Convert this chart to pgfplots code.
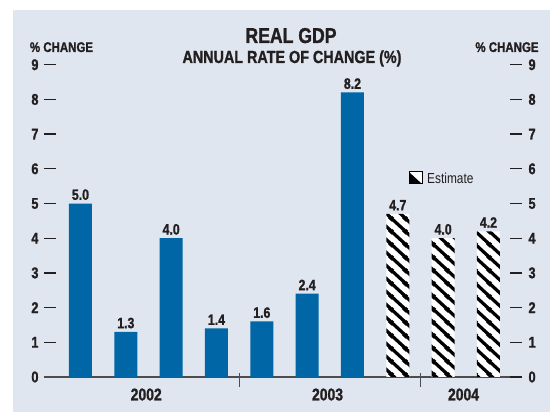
\documentclass[border=0pt]{standalone}
\usepackage{pgfplots}
\pgfplotsset{compat=1.18}
\usepackage{fontspec}
\setmainfont{Liberation Sans}[FakeStretch=0.82, BoldFeatures={FakeBold=1.2}]
\usetikzlibrary{patterns}

\definecolor{panel}{HTML}{DFE6F0}
\definecolor{barblue}{HTML}{0066A5}
\definecolor{ink}{HTML}{231F20}
\definecolor{axisgray}{HTML}{4D4D4F}

\pgfdeclarepatternformonly{gdpstripes}{\pgfqpoint{0pt}{0pt}}{\pgfqpoint{14pt}{12.5pt}}{\pgfqpoint{14pt}{12.5pt}}{%
  \pgfsetlinewidth{3.4pt}%
  \pgfpathmoveto{\pgfqpoint{-2.8pt}{15pt}}\pgfpathlineto{\pgfqpoint{16.8pt}{-2.5pt}}%
  \pgfpathmoveto{\pgfqpoint{-2.8pt}{2.5pt}}\pgfpathlineto{\pgfqpoint{2.8pt}{-2.5pt}}%
  \pgfpathmoveto{\pgfqpoint{11.2pt}{15pt}}\pgfpathlineto{\pgfqpoint{16.8pt}{10pt}}%
  \pgfusepath{stroke}}

\pgfplotstableread{
x y
1 5.0
2 1.3
3 4.0
4 1.4
5 1.6
6 2.4
7 8.2
}\actual
\pgfplotstableread{
x y
8 4.7
9 4.0
10 4.2
}\estimate

\begin{document}
\begin{tikzpicture}[x=1pt,y=1pt]
\useasboundingbox (0,0) rectangle (550,412);
\fill[white] (0,0) rectangle (550,412);
\fill[panel] (13,0) rectangle (550,402);

\begin{axis}[
  at={(44pt,35pt)}, anchor=south west,
  scale only axis, width=478pt, height=312.3pt,
  xmin=0.195, xmax=10.74, ymin=0, ymax=9,
  axis x line=bottom, axis y line=left,
  axis line style={-},
  x axis line style={color=axisgray, line width=1.2pt},
  y axis line style={draw=none},
  ytick={0,...,9},
  ytick style={color=ink, line width=1.3pt},
  major tick length=12pt, tick align=inside,
  xtick={2.45,6.45,9.45}, xticklabels={2002,2003,2004},
  xtick style={draw=none},
  xticklabel style={font=\bfseries\fontsize{17}{17}\selectfont, color=ink, yshift=4pt},
  yticklabel style={font=\bfseries\fontsize{15.5}{15.5}\selectfont, color=ink, xshift=-2pt},
  /pgf/number format/assume math mode=true,
  ybar, bar width=23pt,
  nodes near coords={\pgfmathprintnumber[fixed,fixed zerofill,precision=1,assume math mode=true]{\pgfplotspointmeta}},
  nodes near coords style={font=\bfseries\fontsize{15}{15}\selectfont, color=ink},
  clip=false,
]
\addplot[bar shift=0pt, fill=barblue, draw=none] table[x=x,y=y] {\actual};
\addplot[bar shift=0pt, draw=none, preaction={fill=white}, pattern=gdpstripes, pattern color=black] table[x=x,y=y] {\estimate};
\draw[color=axisgray, line width=1.2pt] (axis cs:4.5,0) ++(0pt,4pt) -- ++(0pt,-14pt);
\draw[color=axisgray, line width=1.2pt] (axis cs:8.5,0) ++(0pt,4pt) -- ++(0pt,-14pt);
\end{axis}

\begin{axis}[
  at={(44pt,35pt)}, anchor=south west,
  scale only axis, width=478pt, height=312.3pt,
  xmin=0.195, xmax=10.74, ymin=0, ymax=9,
  axis x line=none, axis y line=right,
  axis line style={-},
  y axis line style={draw=none},
  ytick={0,...,9},
  ytick style={color=ink, line width=1.3pt},
  major tick length=12pt, tick align=inside,
  yticklabel style={font=\bfseries\fontsize{15.5}{15.5}\selectfont, color=ink, xshift=3pt},
  /pgf/number format/assume math mode=true,
]
\end{axis}

\node[anchor=base, font=\bfseries\fontsize{21.5}{21.5}\selectfont, color=ink] at (291,369) {REAL GDP};
\node[anchor=base, font=\bfseries\fontsize{17.5}{17.5}\selectfont, color=ink] at (292,349) {ANNUAL RATE OF CHANGE (\%)};
\node[anchor=base, font=\bfseries\fontsize{14}{14}\selectfont, color=ink] at (61.5,360) {\% CHANGE};
\node[anchor=base, font=\bfseries\fontsize{14}{14}\selectfont, color=ink] at (507,360) {\% CHANGE};

\fill[white] (409,228) rectangle (422,240);
\fill[black] (409,240) -- (409,228) -- (422,228) -- cycle;
\draw[black, line width=1pt] (409,228) rectangle (422,240);
\node[anchor=base west, inner sep=0pt, font=\fontsize{14.5}{14.5}\selectfont, color=ink] at (427,228) {Estimate};
\end{tikzpicture}
\end{document}
